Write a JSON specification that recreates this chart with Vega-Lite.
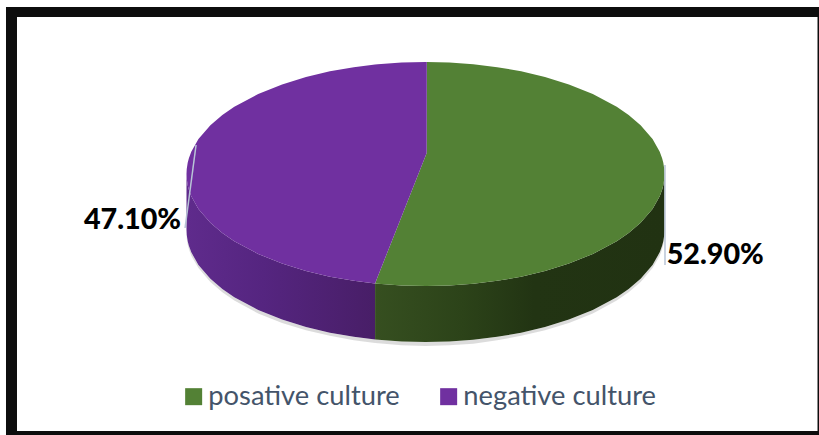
{
  "$schema": "https://vega.github.io/schema/vega-lite/v6.json",
  "width": 819,
  "height": 435,
  "padding": 0,
  "autosize": {"type": "none"},
  "background": "white",
  "config": {"view": {"stroke": null}},
  "datasets": {
    "face": [
      {"culture": "posative culture", "x": -21.1, "upper": -97.7, "lower": -97.7},
      {"culture": "posative culture", "x": -20, "upper": -91.8, "lower": -98},
      {"culture": "posative culture", "x": -10, "upper": -37.9, "lower": -99.5},
      {"culture": "posative culture", "x": 0, "upper": 16, "lower": -100},
      {"culture": "posative culture", "x": 0.5, "upper": 18.7, "lower": -100},
      {"culture": "posative culture", "x": 0.55, "upper": 100, "lower": -100},
      {"culture": "posative culture", "x": 10, "upper": 99.5, "lower": -99.5},
      {"culture": "posative culture", "x": 20, "upper": 98, "lower": -98},
      {"culture": "posative culture", "x": 30, "upper": 95.4, "lower": -95.4},
      {"culture": "posative culture", "x": 40, "upper": 91.7, "lower": -91.7},
      {"culture": "posative culture", "x": 50, "upper": 86.6, "lower": -86.6},
      {"culture": "posative culture", "x": 60, "upper": 80, "lower": -80},
      {"culture": "posative culture", "x": 70, "upper": 71.4, "lower": -71.4},
      {"culture": "posative culture", "x": 80, "upper": 60, "lower": -60},
      {"culture": "posative culture", "x": 85, "upper": 52.7, "lower": -52.7},
      {"culture": "posative culture", "x": 90, "upper": 43.6, "lower": -43.6},
      {"culture": "posative culture", "x": 95, "upper": 31.2, "lower": -31.2},
      {"culture": "posative culture", "x": 98, "upper": 19.9, "lower": -19.9},
      {"culture": "posative culture", "x": 99, "upper": 14.1, "lower": -14.1},
      {"culture": "posative culture", "x": 99.5, "upper": 9.99, "lower": -9.99},
      {"culture": "posative culture", "x": 99.9, "upper": 4.47, "lower": -4.47},
      {"culture": "posative culture", "x": 100, "upper": 0, "lower": 0},
      {"culture": "negative culture", "x": -100, "upper": 0, "lower": 0},
      {"culture": "negative culture", "x": -99.9, "upper": 4.47, "lower": -4.47},
      {"culture": "negative culture", "x": -99.5, "upper": 9.99, "lower": -9.99},
      {"culture": "negative culture", "x": -99, "upper": 14.1, "lower": -14.1},
      {"culture": "negative culture", "x": -98, "upper": 19.9, "lower": -19.9},
      {"culture": "negative culture", "x": -95, "upper": 31.2, "lower": -31.2},
      {"culture": "negative culture", "x": -90, "upper": 43.6, "lower": -43.6},
      {"culture": "negative culture", "x": -85, "upper": 52.7, "lower": -52.7},
      {"culture": "negative culture", "x": -80, "upper": 60, "lower": -60},
      {"culture": "negative culture", "x": -70, "upper": 71.4, "lower": -71.4},
      {"culture": "negative culture", "x": -60, "upper": 80, "lower": -80},
      {"culture": "negative culture", "x": -50, "upper": 86.6, "lower": -86.6},
      {"culture": "negative culture", "x": -40, "upper": 91.7, "lower": -91.7},
      {"culture": "negative culture", "x": -30, "upper": 95.4, "lower": -95.4},
      {"culture": "negative culture", "x": -21.1, "upper": 97.7, "lower": -97.7},
      {"culture": "negative culture", "x": -20, "upper": 98, "lower": -91.8},
      {"culture": "negative culture", "x": -10, "upper": 99.5, "lower": -37.9},
      {"culture": "negative culture", "x": 0, "upper": 100, "lower": 16},
      {"culture": "negative culture", "x": 0.5, "upper": 100, "lower": 18.7},
      {"culture": "negative culture", "x": 0.55, "upper": 100, "lower": 100}
    ],
    "side": [
      {"culture": "negative culture", "x": -100, "rim": 0, "base": -50, "shade": -53},
      {"culture": "negative culture", "x": -99.9, "rim": -4.47, "base": -54.47, "shade": -57.5},
      {"culture": "negative culture", "x": -99.5, "rim": -9.99, "base": -59.99, "shade": -63},
      {"culture": "negative culture", "x": -99, "rim": -14.1, "base": -64.1, "shade": -67},
      {"culture": "negative culture", "x": -98, "rim": -19.9, "base": -69.9, "shade": -73},
      {"culture": "negative culture", "x": -95, "rim": -31.2, "base": -81.2, "shade": -84},
      {"culture": "negative culture", "x": -90, "rim": -43.6, "base": -93.6, "shade": -96.5},
      {"culture": "negative culture", "x": -85, "rim": -52.7, "base": -102.7, "shade": -105.5},
      {"culture": "negative culture", "x": -80, "rim": -60, "base": -110, "shade": -113},
      {"culture": "negative culture", "x": -70, "rim": -71.4, "base": -121.4, "shade": -124.5},
      {"culture": "negative culture", "x": -60, "rim": -80, "base": -130, "shade": -133},
      {"culture": "negative culture", "x": -50, "rim": -86.6, "base": -136.6, "shade": -139.5},
      {"culture": "negative culture", "x": -40, "rim": -91.7, "base": -141.7, "shade": -144.5},
      {"culture": "negative culture", "x": -30, "rim": -95.4, "base": -145.4, "shade": -148.5},
      {"culture": "negative culture", "x": -21.1, "rim": -97.7, "base": -147.7, "shade": -151},
      {"culture": "posative culture", "x": -21.1, "rim": -97.7, "base": -147.7, "shade": -151},
      {"culture": "posative culture", "x": -10, "rim": -99.5, "base": -149.5, "shade": -153},
      {"culture": "posative culture", "x": 0, "rim": -100, "base": -150, "shade": -153.5},
      {"culture": "posative culture", "x": 10, "rim": -99.5, "base": -149.5, "shade": -153},
      {"culture": "posative culture", "x": 20, "rim": -98, "base": -148, "shade": -151.5},
      {"culture": "posative culture", "x": 30, "rim": -95.4, "base": -145.4, "shade": -148.5},
      {"culture": "posative culture", "x": 40, "rim": -91.7, "base": -141.7, "shade": -144.5},
      {"culture": "posative culture", "x": 50, "rim": -86.6, "base": -136.6, "shade": -139.5},
      {"culture": "posative culture", "x": 60, "rim": -80, "base": -130, "shade": -133},
      {"culture": "posative culture", "x": 70, "rim": -71.4, "base": -121.4, "shade": -124.5},
      {"culture": "posative culture", "x": 80, "rim": -60, "base": -110, "shade": -113},
      {"culture": "posative culture", "x": 85, "rim": -52.7, "base": -102.7, "shade": -105.5},
      {"culture": "posative culture", "x": 90, "rim": -43.6, "base": -93.6, "shade": -96.5},
      {"culture": "posative culture", "x": 95, "rim": -31.2, "base": -81.2, "shade": -84},
      {"culture": "posative culture", "x": 98, "rim": -19.9, "base": -69.9, "shade": -73},
      {"culture": "posative culture", "x": 99, "rim": -14.1, "base": -64.1, "shade": -67},
      {"culture": "posative culture", "x": 99.5, "rim": -9.99, "base": -59.99, "shade": -63},
      {"culture": "posative culture", "x": 99.9, "rim": -4.47, "base": -54.47, "shade": -57.5},
      {"culture": "posative culture", "x": 100, "rim": 0, "base": -50, "shade": -53}
    ],
    "leaders": [
      {"culture": "negative culture", "x": -96, "y": 25.9},
      {"culture": "negative culture", "x": -100.6, "y": -48.2},
      {"culture": "posative culture", "x": 100.2, "y": 8},
      {"culture": "posative culture", "x": 100.2, "y": -81.25}
    ],
    "labels": [
      {"culture": "posative culture", "share": 0.529, "x": 100.9, "y": -80.6},
      {"culture": "negative culture", "share": 0.471, "x": -142.9, "y": -49.1}
    ],
    "frame": [
      {"x": -175.52, "x2": -170.92, "y": 149.1, "y2": -233.04},
      {"x": -175.52, "x2": 164.64, "y": 149.1, "y2": 140.18},
      {"x": -175.52, "x2": 164.64, "y": -229.46, "y2": -233.04},
      {"x": 164.02, "x2": 164.64, "y": 149.1, "y2": -233.04}
    ]
  },
  "layer": [
    {
      "data": {"name": "side"},
      "mark": {"type": "area", "fill": "#8a8a8a", "opacity": 0.3},
      "encoding": {
        "x": {"field": "x", "type": "quantitative", "scale": {"domain": [-178.03, 164.64], "nice": false, "zero": false}, "axis": null},
        "y": {"field": "base", "type": "quantitative", "scale": {"domain": [-233.04, 155.36], "nice": false, "zero": false}, "axis": null},
        "y2": {"field": "shade"},
        "detail": {"field": "culture"}
      }
    },
    {
      "data": {"name": "side"},
      "transform": [{"filter": "datum.culture === 'negative culture'"}],
      "mark": {
        "type": "area",
        "fill": {
          "gradient": "linear", "x1": 0, "y1": 0, "x2": 1, "y2": 0,
          "stops": [
            {"offset": 0, "color": "#5f2b8c"},
            {"offset": 0.4, "color": "#552580"},
            {"offset": 1, "color": "#481e67"}
          ]
        }
      },
      "encoding": {
        "x": {"field": "x", "type": "quantitative"},
        "y": {"field": "rim", "type": "quantitative"},
        "y2": {"field": "base"}
      }
    },
    {
      "data": {"name": "side"},
      "transform": [{"filter": "datum.culture === 'posative culture'"}],
      "mark": {
        "type": "area",
        "fill": {
          "gradient": "linear", "x1": 0, "y1": 0, "x2": 1, "y2": 0,
          "stops": [
            {"offset": 0, "color": "#364f20"},
            {"offset": 0.3, "color": "#2c4319"},
            {"offset": 0.55, "color": "#223413"},
            {"offset": 1, "color": "#213212"}
          ]
        }
      },
      "encoding": {
        "x": {"field": "x", "type": "quantitative"},
        "y": {"field": "rim", "type": "quantitative"},
        "y2": {"field": "base"}
      }
    },
    {
      "data": {"name": "face"},
      "mark": {"type": "area"},
      "encoding": {
        "x": {"field": "x", "type": "quantitative"},
        "y": {"field": "upper", "type": "quantitative"},
        "y2": {"field": "lower"},
        "color": {
          "field": "culture",
          "type": "nominal",
          "scale": {"domain": ["posative culture", "negative culture"], "range": ["#538135", "#7030a0"]},
          "legend": {
            "title": null,
            "orient": "none",
            "legendX": 180,
            "legendY": 383,
            "direction": "horizontal",
            "columns": 2,
            "columnPadding": 35,
            "padding": 0,
            "symbolType": "square",
            "symbolSize": 289,
            "symbolStrokeWidth": 0,
            "symbolOpacity": 1,
            "labelFont": "Lato",
            "labelFontSize": 27.3,
            "labelColor": "#44546a",
            "labelOffset": 1,
            "labelLimit": 400
          }
        }
      }
    },
    {
      "data": {"name": "leaders"},
      "mark": {"type": "line", "stroke": "#b8c4d6", "strokeWidth": 1.5},
      "encoding": {
        "x": {"field": "x", "type": "quantitative"},
        "y": {"field": "y", "type": "quantitative", "sort": null},
        "detail": {"field": "culture"}
      }
    },
    {
      "data": {"name": "labels"},
      "mark": {"type": "text", "align": "left", "baseline": "alphabetic", "font": "Lato", "fontSize": 28.7, "fontWeight": 900, "fill": "#000000"},
      "encoding": {
        "x": {"field": "x", "type": "quantitative"},
        "y": {"field": "y", "type": "quantitative"},
        "text": {"field": "share", "type": "quantitative", "format": ".2%"}
      }
    },
    {
      "data": {"name": "frame"},
      "mark": {"type": "rect", "fill": "#0d0d0d"},
      "encoding": {
        "x": {"field": "x", "type": "quantitative"},
        "x2": {"field": "x2"},
        "y": {"field": "y", "type": "quantitative"},
        "y2": {"field": "y2"}
      }
    }
  ]
}
